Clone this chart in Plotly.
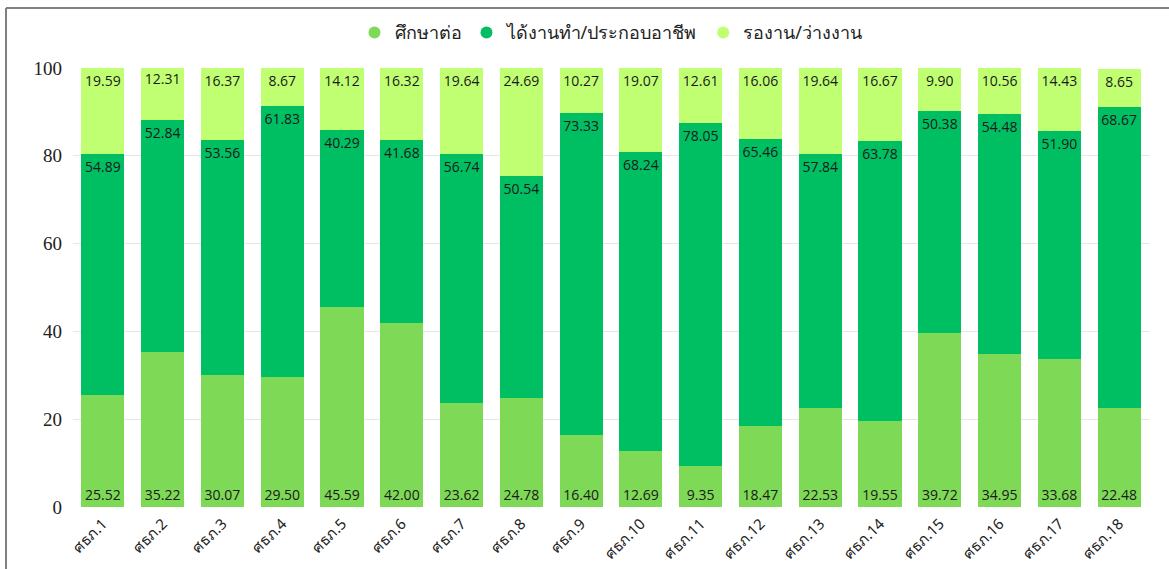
import plotly.graph_objects as go

# Regional units
categories = [f"ศธภ.{i}" for i in range(1, 19)]

# Share of graduates (%) by outcome
study_further = [25.52, 35.22, 30.07, 29.50, 45.59, 42.00, 23.62, 24.78, 16.40,
                 12.69, 9.35, 18.47, 22.53, 19.55, 39.72, 34.95, 33.68, 22.48]
employed = [54.89, 52.84, 53.56, 61.83, 40.29, 41.68, 56.74, 50.54, 73.33,
            68.24, 78.05, 65.46, 57.84, 63.78, 50.38, 54.48, 51.90, 68.67]
waiting = [19.59, 12.31, 16.37, 8.67, 14.12, 16.32, 19.64, 24.69, 10.27,
           19.07, 12.61, 16.06, 19.64, 16.67, 9.90, 10.56, 14.43, 8.65]

series_names = ["ศึกษาต่อ", "ได้งานทำ/ประกอบอาชีพ", "รองาน/ว่างงาน"]
series_values = [study_further, employed, waiting]
colors = ["#7ED957", "#00BF63", "#C1FF72"]
anchors = ["start", "end", "end"]

label_font = dict(family="Open Sans, Roboto, sans-serif", size=14, color="#1a1a1a")

fig = go.Figure()
for name, vals, col, anc in zip(series_names, series_values, colors, anchors):
    fig.add_trace(go.Bar(
        x=categories, y=vals, name=name, marker=dict(color=col, line=dict(width=0)),
        text=[f"{v:.2f}" for v in vals], textposition="inside", insidetextanchor=anc,
        textangle=0, constraintext="none", textfont=label_font,
        showlegend=False, hoverinfo="skip",
    ))
    # circular legend marker
    fig.add_trace(go.Scatter(
        x=[None], y=[None], mode="markers", name=name,
        marker=dict(symbol="circle", size=20, color=col),
    ))

L, R, T, B = 73, 20, 68, 62
W, H = 1169, 569
pw, ph = W - L - R, H - T - B

fig.update_layout(
    barmode="stack",
    bargap=0.28,
    width=W, height=H,
    margin=dict(l=L, r=R, t=T, b=B, autoexpand=False),
    paper_bgcolor="white", plot_bgcolor="white",
    legend=dict(orientation="h", x=0.5, xanchor="center", y=0.975, yanchor="top",
                yref="container", bgcolor="rgba(0,0,0,0)",
                font=dict(family="Noto Sans, sans-serif", size=18, color="#222"),
                itemsizing="constant", itemwidth=30, traceorder="normal"),
    xaxis=dict(tickangle=-45, tickfont=dict(family="Noto Sans, sans-serif", size=15, color="#222"),
               showline=False, ticks="", ticklabelstandoff=4, automargin=False),
    yaxis=dict(range=[0, 100], tickvals=[0, 20, 40, 60, 80, 100],
               tickfont=dict(family="Liberation Serif, serif", size=19, color="#222"),
               showgrid=True, gridcolor="#e6e6e6", zeroline=False, ticks="",
               ticklabelstandoff=10, automargin=False),
)
# frame lines on the left and top of the card
fig.add_shape(type="line", xref="paper", yref="paper", x0=-(L - 6) / pw, x1=-(L - 6) / pw,
              y0=-B / ph - 0.01, y1=1 + (T - 8) / ph, line=dict(color="#808080", width=2))
fig.add_shape(type="line", xref="paper", yref="paper", x0=-(L - 6) / pw, x1=1 + R / pw,
              y0=1 + (T - 8) / ph, y1=1 + (T - 8) / ph, line=dict(color="#808080", width=2))

fig.write_html("out.html")
